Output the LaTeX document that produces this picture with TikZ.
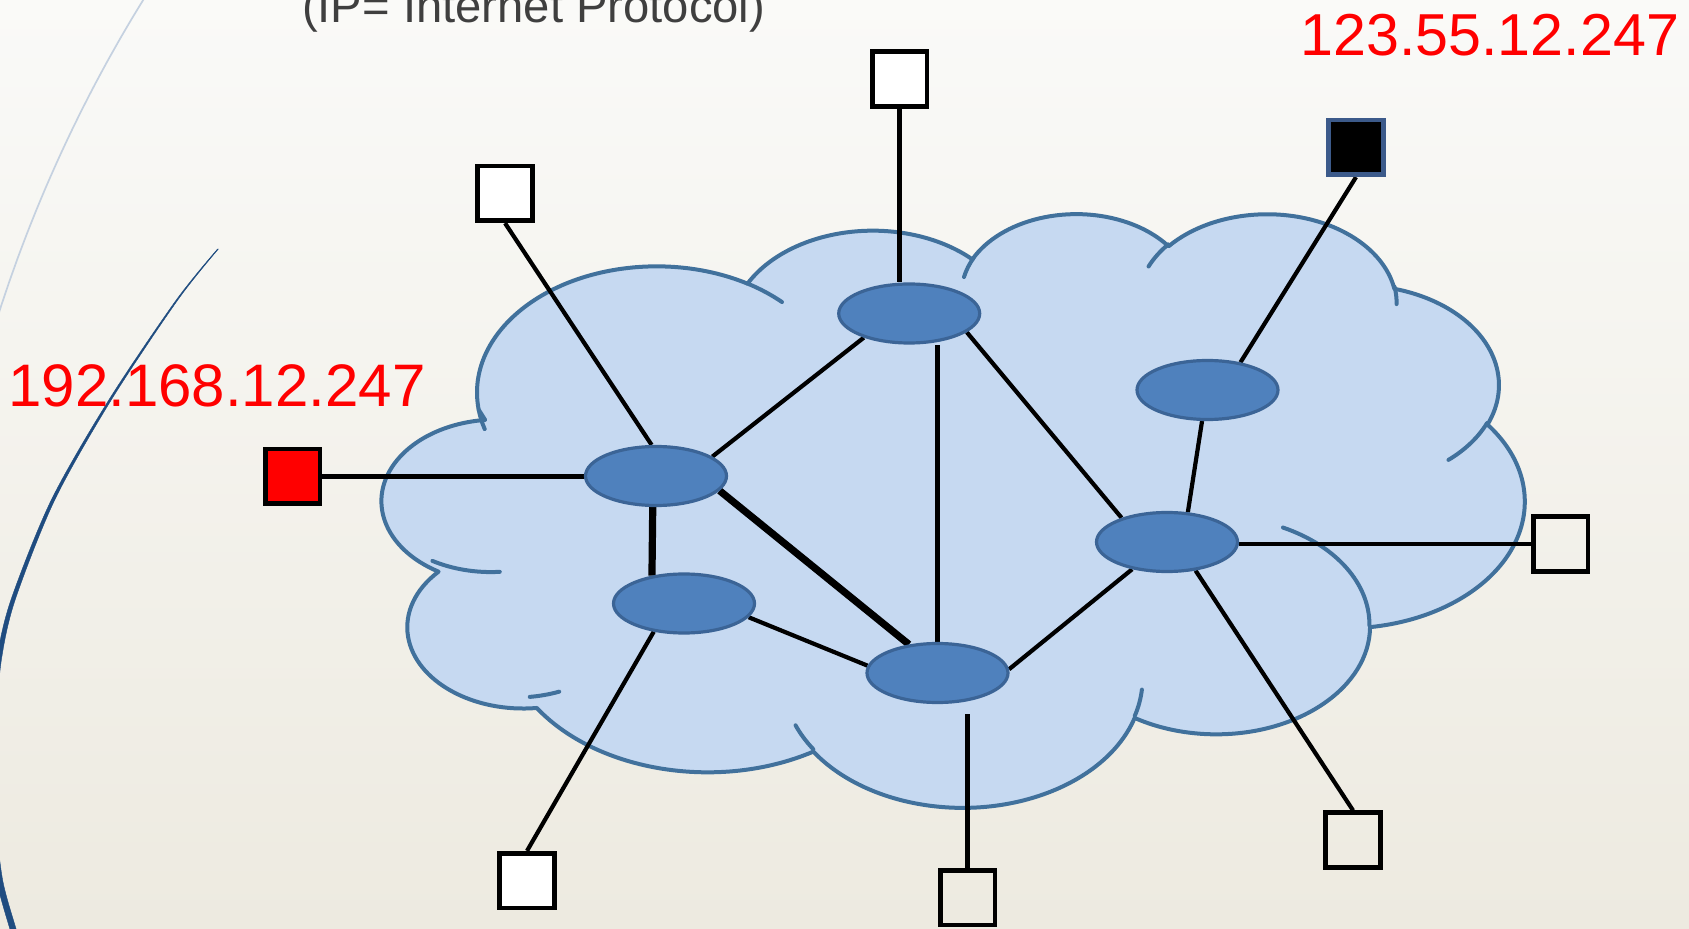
\documentclass[tikz,border=0pt]{standalone}
\usepackage{fontspec}
\setmainfont{Liberation Sans}
\usetikzlibrary{shapes.geometric}
\definecolor{bgtop}{HTML}{FAFAF8}
\definecolor{bgbot}{HTML}{EDEAE0}
\definecolor{cloudfill}{HTML}{C6D9F1}
\definecolor{cloudline}{HTML}{41719C}
\definecolor{nodefill}{HTML}{4F81BD}
\definecolor{nodeline}{HTML}{3B6496}
\definecolor{wispdark}{HTML}{1F4C80}
\definecolor{wisplight}{HTML}{C5D1E0}
\definecolor{titlegray}{HTML}{3F3F3F}
\definecolor{ipred}{HTML}{FF0000}
\definecolor{sqborder}{HTML}{3C5A8A}
\pgfdeclarelayer{bg}
\pgfdeclarelayer{edges}
\pgfsetlayers{bg,edges,main}
% arc of a DrawingML ellipse: wR hR stAng swAng (visual angles, degrees)
\newcommand\ooarc[4]{%
  \pgfmathsetmacro\ootA{atan2((#1)*sin(#3),(#2)*cos(#3))}%
  \pgfmathsetmacro\ootB{atan2((#1)*sin((#3)+(#4)),(#2)*cos((#3)+(#4)))}%
  \pgfmathsetmacro\ootE{(\ootA)+mod((\ootB)-(\ootA)-(#4)+900,360)-180+(#4)}%
  \pgfpatharcaxes{\ootA}{\ootE}{\pgfpointxy{#1}{0}}{\pgfpointxy{0}{#2}}%
}
\tikzset{
  router/.style={ellipse, draw=nodeline, fill=nodefill, line width=1.6pt,
    minimum width=70.5pt, minimum height=29.5pt, inner sep=0pt},
  term/.style={rectangle, draw=black, line width=2.3pt, minimum size=27.3pt, inner sep=0pt},
  link/.style={draw=black, line width=2.1pt},
  thicklink/.style={draw=black, line width=3.6pt},
  iplabel/.style={text=ipred, font=\fontsize{30}{36}\selectfont, inner sep=0pt, anchor=base west},
  titlelabel/.style={text=titlegray, font=\fontsize{23.6}{28}\selectfont, inner sep=0pt, anchor=base west},
}
\begin{document}
\begin{tikzpicture}[x=0.5pt, y=-0.5pt]
\useasboundingbox (0,0) rectangle (1689,929);

% ---------- nodes ----------
\node[router] (A) at (909.2,313.5) {};
\node[router] (B) at (1207.5,390) {};
\node[router] (C) at (656,476) {};
\node[router] (D) at (1167,542) {};
\node[router] (E) at (684,603.5) {};
\node[router] (F) at (937.5,673) {};

\node[term, fill=white] (sq1) at (505,193.5) {};
\node[term, fill=white] (sq2) at (899.5,79) {};
\node[term, fill=black, draw=sqborder] (sq3) at (1356,147.5) {};
\node[term, fill=ipred] (sq4) at (292.5,476.5) {};
\node[term] (sq5) at (1560.5,544) {};
\node[term] (sq6) at (1353,840) {};
\node[term] (sq7) at (967.5,897.5) {};
\node[term, fill=white] (sq8) at (527,880.5) {};

\node[titlelabel] (ttl) at (301.7,23) {(IP= Internet Protocol)};
\node[iplabel] (ipL) at (8,407) {192.168.12.247};
\node[iplabel, font=\fontsize{29.6}{36}\selectfont] (ipR) at (1300,56) {123.55.12.247};

% ---------- connectors ----------
\begin{pgfonlayer}{edges}
\draw[link] (sq1.south) -- (C.98);
\draw[link] (sq2.south) -- (sq2.south |- A.north);
\draw[link] (sq3.south) -- (B.40);
\draw[link] (sq4.east) -- (sq4.east -| C.west);
\draw[link] (sq5.west) -- (sq5.west -| D.east);
\draw[link] (sq6.north) -- (D.-45);
\draw[link, shorten >=4.75pt] (sq7.north) -- (sq7.north |- F.south);
\draw[link] (sq8.north) -- (E.-137);
\draw[link] (C.19) -- (A.208);
\draw[thicklink] (C.-96) -- (E.139);
\draw[thicklink] (C.-13) -- (F.135);
\draw[link] (E.-12) -- (F.174);
\draw[link] (F.north) -- (F.north |- A.south);
\draw[link] (A.-18) -- (D.152);
\draw[link] (B.-100) -- (D.55);
\draw[link] (D.218) -- (F.3);
\end{pgfonlayer}

% ---------- background, theme curves, cloud ----------
\begin{pgfonlayer}{bg}
\shade[top color=bgtop, bottom color=bgbot] (0pt,0pt) rectangle (844.5pt,-464.5pt);
\begin{scope}
\clip (0,0) rectangle (1689,929);
\draw[wisplight, line width=0.85pt]
  plot[domain=-145:-165, samples=40] ({1351+1420*cos(\x)},{746.6+1420*sin(\x)});
\fill[wispdark, draw=wispdark, line width=0.2pt, line join=round]
  plot[smooth] coordinates {(217.6,249) (176.25,300) (108.8,400) (51.3,500) (10.9,600)
     (-3.35,660) (-8.5,720) (-10.6,770) (-8.8,830) (-3,882) (9.9,929) (16.9,950)}
  -- plot[smooth] coordinates {(23.1,950) (16.1,929) (3,882) (-3.2,830) (-5.4,770)
     (-3.5,720) (1.35,660) (15.1,600) (54.7,500) (111.2,400) (177.75,300) (218.4,249)}
  -- cycle;
\end{scope}
\begin{scope}[shift={(187.45pt,-106.1pt)}, x=13.303pt, y=-6.869pt]
  \pgfsetlinewidth{2pt}
  \pgfsetroundjoin
  \pgfsetroundcap
  \pgfsetstrokecolor{cloudline}
  \pgfsetfillcolor{cloudfill}
  \pgfpathmoveto{\pgfpointxy{3.9}{14.37}}
  \ooarc{6.753}{9.190}{-190.48748}{123.78053}
  \ooarc{5.333}{7.267}{-144.10238}{89.94523}
  \ooarc{4.365}{5.945}{-145.80792}{99.72302}
  \ooarc{4.857}{6.595}{-130.98607}{117.24173}
  \ooarc{5.333}{7.273}{-78.70888}{109.02692}
  \ooarc{6.775}{9.220}{-46.26725}{130.269}
  \ooarc{5.785}{7.867}{0.62502}{114.03333}
  \ooarc{6.752}{9.215}{22.4516}{115.17255}
  \ooarc{7.720}{10.543}{66.24263}{71.36498}
  \ooarc{4.360}{5.918}{-274.94208}{146.73557}
  \ooarc{4.345}{5.945}{-246.8285}{152.51885}
  \pgfpathclose
  \pgfusepath{fill,stroke}
  % creases
  \pgfpathmoveto{\pgfpointxy{4.693}{26.177}}\ooarc{4.345}{5.945}{86.742}{26.4295}
  \pgfpathmoveto{\pgfpointxy{6.928}{34.899}}\ooarc{4.360}{5.918}{73.61047}{11.44747}
  \pgfpathmoveto{\pgfpointxy{16.478}{39.090}}\ooarc{6.752}{9.215}{137.62415}{14.0811}
  \pgfpathmoveto{\pgfpointxy{28.827}{34.751}}\ooarc{6.752}{9.215}{6.45327}{15.99835}
  \pgfpathmoveto{\pgfpointxy{34.129}{22.954}}\ooarc{5.785}{7.867}{-70.29235}{70.91737}
  \pgfpathmoveto{\pgfpointxy{41.798}{15.354}}\ooarc{5.333}{7.273}{30.31803}{27.7515}
  \pgfpathmoveto{\pgfpointxy{38.324}{5.426}}\ooarc{4.857}{6.595}{-13.74433}{14.85115}
  \pgfpathmoveto{\pgfpointxy{29.078}{3.952}}\ooarc{4.857}{6.595}{-149.18145}{18.19307}
  \pgfpathmoveto{\pgfpointxy{22.141}{4.720}}\ooarc{4.365}{5.945}{-163.49427}{17.69422}
  \pgfpathmoveto{\pgfpointxy{14.000}{5.192}}\ooarc{6.753}{9.190}{-66.70695}{12.31935}
  \pgfpathmoveto{\pgfpointxy{4.127}{15.789}}\ooarc{6.753}{9.190}{157.65435}{11.85817}
  \pgfusepath{stroke}
\end{scope}
\end{pgfonlayer}
\end{tikzpicture}
\end{document}
